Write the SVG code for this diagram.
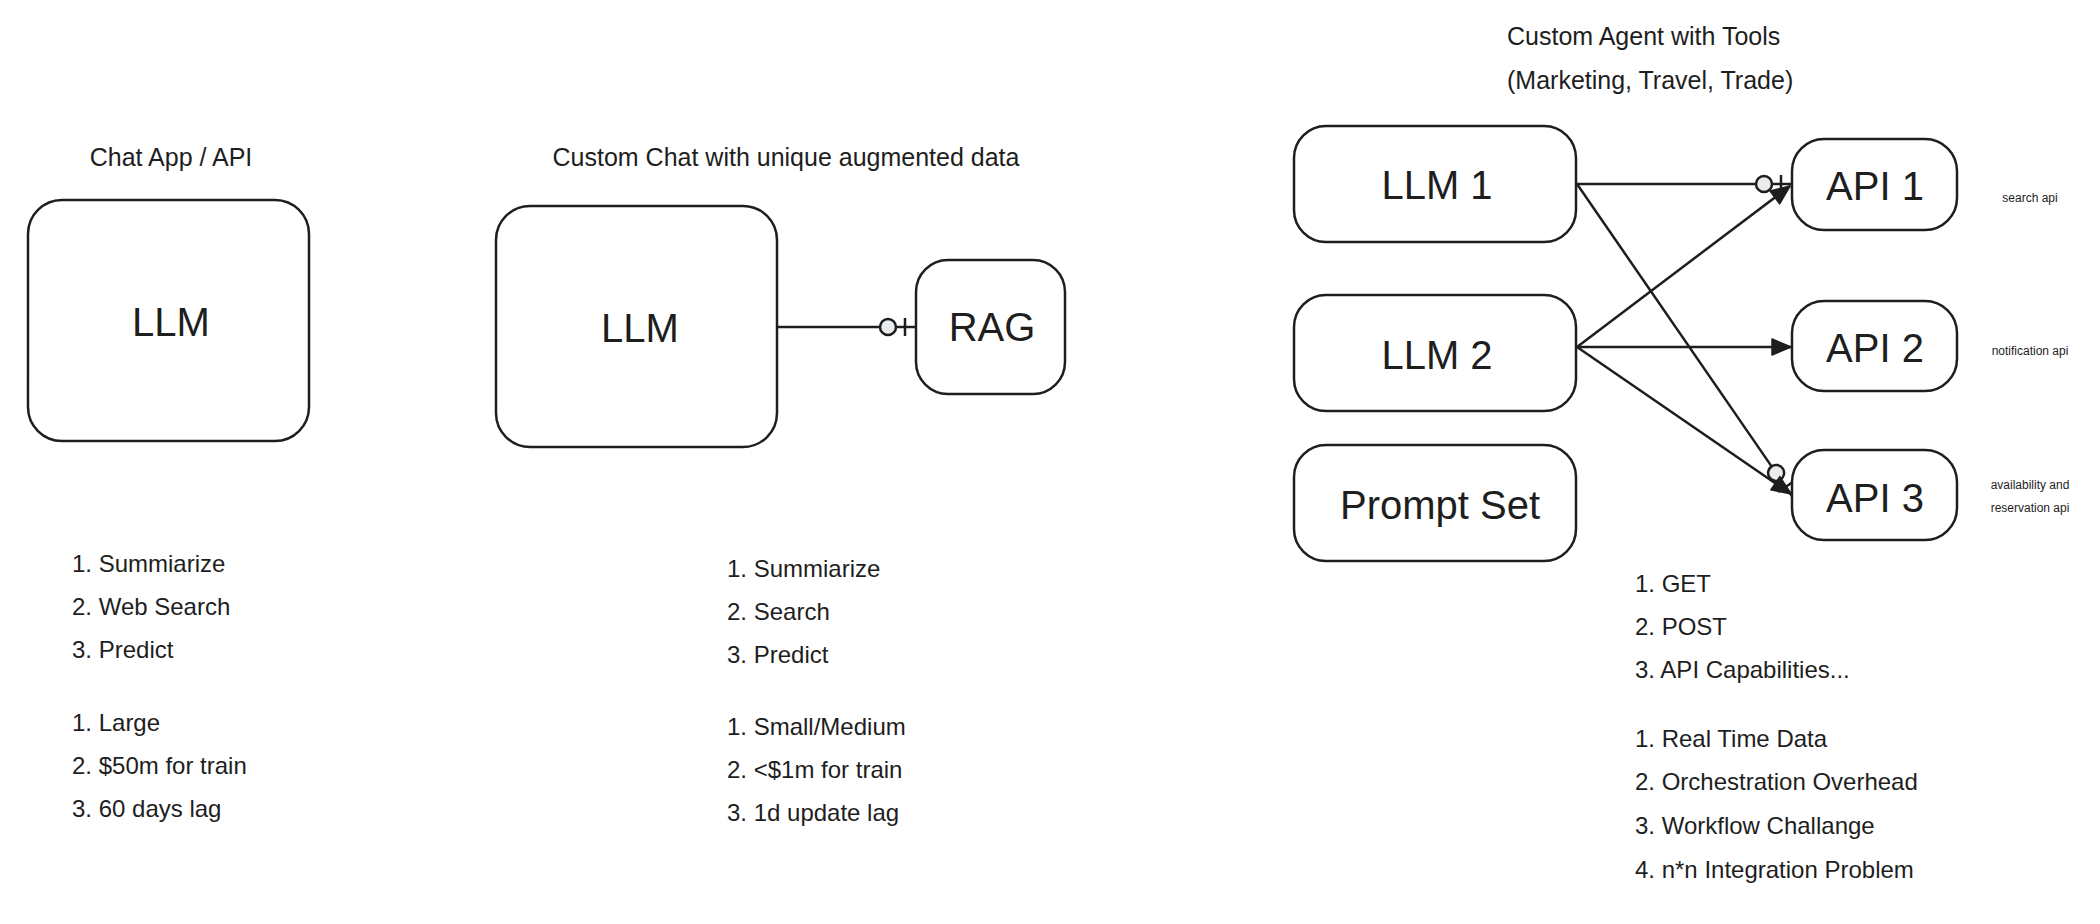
<svg xmlns="http://www.w3.org/2000/svg" width="2100" height="924" viewBox="0 0 2100 924">
<style>
  .box { fill: #ffffff; stroke: #1e1e1e; stroke-width: 2.5; }
  .lbl { font-family: "Liberation Sans", "DejaVu Sans", sans-serif; font-size: 40px; fill: #1e1e1e; text-anchor: middle; }
  .head { font-family: "Liberation Sans", "DejaVu Sans", sans-serif; font-size: 25px; fill: #1e1e1e; }
  .list { font-family: "Liberation Sans", "DejaVu Sans", sans-serif; font-size: 24px; fill: #1e1e1e; }
  .note { font-family: "Liberation Sans", "DejaVu Sans", sans-serif; font-size: 12px; fill: #1e1e1e; text-anchor: middle; }
  .edge { fill: none; stroke: #1e1e1e; stroke-width: 2.5; }
</style>
<defs>
  <marker id="arrow" markerUnits="userSpaceOnUse" markerWidth="24" markerHeight="22" viewBox="-22 -11 24 22" refX="0" refY="0" orient="auto">
    <path d="M-19,-8 L0,0 L-19,8 Z" fill="#1e1e1e" stroke="#1e1e1e" stroke-width="1.5" stroke-linejoin="round"/>
  </marker>
  <marker id="zeroOne" markerUnits="userSpaceOnUse" markerWidth="44" markerHeight="26" viewBox="-40 -13 44 26" refX="0" refY="0" orient="auto">
    <line x1="-11" y1="-9" x2="-11" y2="9" stroke="#1e1e1e" stroke-width="2.5"/>
    <circle cx="-28" cy="0" r="8" fill="#e9ecef" stroke="#1e1e1e" stroke-width="2.5"/>
  </marker>
</defs>
<rect width="2100" height="924" fill="#ffffff"/>

<!-- Titles -->
<text class="head" x="171" y="166" text-anchor="middle">Chat App / API</text>
<text class="head" x="786" y="166" text-anchor="middle">Custom Chat with unique augmented data</text>
<text class="head" x="1507" y="45">Custom Agent with Tools</text>
<text class="head" x="1507" y="89">(Marketing, Travel, Trade)</text>

<!-- Connectors -->
<g id="connectors">
  <line class="edge" x1="777" y1="327" x2="916" y2="327" marker-end="url(#zeroOne)"/>
  <line class="edge" x1="1577" y1="184" x2="1792" y2="184" marker-end="url(#zeroOne)"/>
  <line class="edge" x1="1577" y1="184" x2="1792" y2="496" marker-end="url(#zeroOne)"/>
  <line class="edge" x1="1577" y1="347" x2="1790" y2="186" marker-end="url(#arrow)"/>
  <line class="edge" x1="1577" y1="347" x2="1791" y2="347" marker-end="url(#arrow)"/>
  <line class="edge" x1="1577" y1="347" x2="1791" y2="494" marker-end="url(#arrow)"/>
</g>

<!-- Nodes -->
<g id="llm-chat">
  <rect class="box" x="28" y="200" width="281" height="241" rx="34"/>
  <text class="lbl" x="171" y="336">LLM</text>
</g>
<g id="llm-custom">
  <rect class="box" x="496" y="206" width="281" height="241" rx="34"/>
  <text class="lbl" x="640" y="342">LLM</text>
</g>
<g id="rag">
  <rect class="box" x="916" y="260" width="149" height="134" rx="32"/>
  <text class="lbl" x="992" y="341">RAG</text>
</g>
<g id="llm1">
  <rect class="box" x="1294" y="126" width="282" height="116" rx="32"/>
  <text class="lbl" x="1437" y="199">LLM 1</text>
</g>
<g id="llm2">
  <rect class="box" x="1294" y="295" width="282" height="116" rx="32"/>
  <text class="lbl" x="1437" y="369">LLM 2</text>
</g>
<g id="prompt-set">
  <rect class="box" x="1294" y="445" width="282" height="116" rx="32"/>
  <text class="lbl" x="1440" y="519">Prompt Set</text>
</g>
<g id="api1">
  <rect class="box" x="1792" y="139" width="165" height="91" rx="32"/>
  <text class="lbl" x="1875" y="200">API 1</text>
</g>
<g id="api2">
  <rect class="box" x="1792" y="301" width="165" height="90" rx="32"/>
  <text class="lbl" x="1875" y="362">API 2</text>
</g>
<g id="api3">
  <rect class="box" x="1792" y="450" width="165" height="90" rx="32"/>
  <text class="lbl" x="1875" y="512">API 3</text>
</g>

<!-- Side notes -->
<text class="note" x="2030" y="202">search api</text>
<text class="note" x="2030" y="355">notification api</text>
<text class="note" x="2030" y="489">availability and</text>
<text class="note" x="2030" y="512">reservation api</text>

<!-- Lists -->
<g class="list">
  <text x="72" y="572">1. Summiarize</text>
  <text x="72" y="615">2. Web Search</text>
  <text x="72" y="658">3. Predict</text>
  <text x="72" y="731">1. Large</text>
  <text x="72" y="774">2. $50m for train</text>
  <text x="72" y="817">3. 60 days lag</text>

  <text x="727" y="577">1. Summiarize</text>
  <text x="727" y="620">2. Search</text>
  <text x="727" y="663">3. Predict</text>
  <text x="727" y="735">1. Small/Medium</text>
  <text x="727" y="778">2. &lt;$1m for train</text>
  <text x="727" y="821">3. 1d update lag</text>

  <text x="1635" y="592">1. GET</text>
  <text x="1635" y="635">2. POST</text>
  <text x="1635" y="678">3. API Capabilities...</text>
  <text x="1635" y="747">1. Real Time Data</text>
  <text x="1635" y="790">2. Orchestration Overhead</text>
  <text x="1635" y="834">3. Workflow Challange</text>
  <text x="1635" y="878">4. n*n Integration Problem</text>
</g>
</svg>
